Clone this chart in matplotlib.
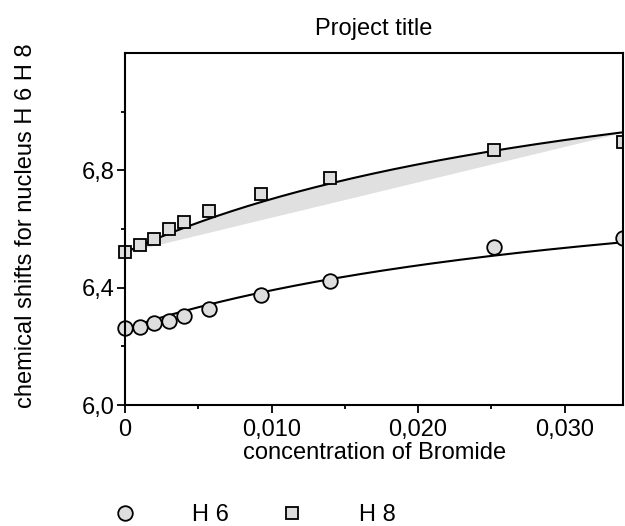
import numpy as np
import matplotlib.pyplot as plt
from matplotlib.patches import Rectangle
from matplotlib.ticker import FixedLocator

plt.rcParams['font.family'] = ['Liberation Sans', 'DejaVu Sans']

# concentration of bromide (x) and chemical shifts
conc = [0, 0.001, 0.002, 0.003, 0.004, 0.0057, 0.0093, 0.0140, 0.0252, 0.034]
h6 = [6.264, 6.267, 6.278, 6.288, 6.302, 6.326, 6.374, 6.422, 6.538, 6.569]
h8 = [6.522, 6.545, 6.566, 6.600, 6.624, 6.662, 6.720, 6.775, 6.871, 6.898]

# fitted binding curves: y = y0 + A*x/(K+x)
h6_fit = dict(y0=6.26, A=0.616, K=0.037)
h8_fit = dict(y0=6.52, A=0.854, K=0.0368)

yticks = [6.0, 6.4, 6.8]
ylabels = ['6,0', '6,4', '6,8']
xticks = [0, 0.010, 0.020, 0.030]
xlabels = ['0', '0,010', '0,020', '0,030']


def model(x, p):
    return p['y0'] + p['A'] * x / (p['K'] + x)


fig = plt.figure(figsize=(6.25, 5.26), dpi=100)
ax = fig.add_axes([0.2, 0.23, 0.797, 0.669])

xs = np.linspace(0, 0.034, 200)
y8 = model(xs, h8_fit)
chord = y8[0] + (y8[-1] - y8[0]) * xs / xs[-1]
ax.fill_between(xs, chord, y8, color='#e0e0e0', lw=0)
ax.plot(xs, y8, color='black', lw=1.5)
ax.plot(xs, model(xs, h6_fit), color='black', lw=1.5)

clip = Rectangle((-0.05, -0.05), 1.05, 1.1, transform=ax.transAxes)
p6, = ax.plot(conc, h6, 'o', ms=10.5, mfc='#dedede', mec='black', mew=1.3, label='H 6')
p8, = ax.plot(conc, h8, 's', ms=9, mfc='#dedede', mec='black', mew=1.3, label='H 8')
for p in (p6, p8):
    p.set_clip_path(clip)

ax.set_xlim(0, 0.034)
ax.set_ylim(6.0, 7.2)
ax.set_xticks(xticks)
ax.set_xticklabels(xlabels)
ax.set_yticks(yticks)
ax.set_yticklabels(ylabels)
ax.xaxis.set_minor_locator(FixedLocator([0.005, 0.015, 0.025]))
ax.yaxis.set_minor_locator(FixedLocator([6.2, 6.6, 7.0]))
ax.tick_params(which='major', length=5.8, width=1.3, labelsize=17, direction='out')
ax.tick_params(which='minor', length=3, width=1.3, direction='out')
ax.tick_params(axis='x', which='major', pad=4)
ax.tick_params(axis='y', which='major', pad=1.5)
for s in ax.spines.values():
    s.set_linewidth(1.5)

ax.set_title('Project title', fontsize=17, pad=13)
ax.set_xlabel('concentration of Bromide', fontsize=17)
ax.set_ylabel('chemical shifts for nucleus H 6 H 8', fontsize=17)
ax.xaxis.set_label_coords(0.5, -0.105)
ax.yaxis.set_label_coords(-0.177, 0.51)

fig.legend(handles=[p6, p8], loc='center left', bbox_to_anchor=(0.166, 0.021),
           ncol=2, frameon=False, fontsize=17, handlelength=1,
           handletextpad=2.33, columnspacing=2.2, borderaxespad=0)

fig.savefig('out.png', dpi=100)
